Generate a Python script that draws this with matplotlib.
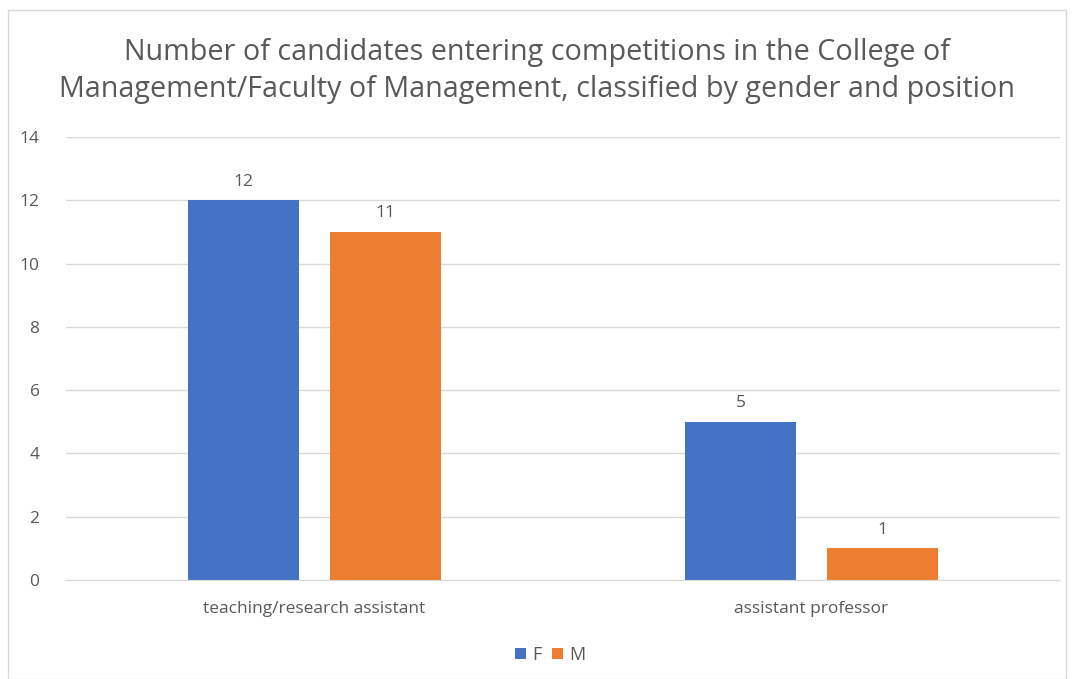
import matplotlib.pyplot as plt
from matplotlib.patches import Rectangle
import numpy as np

categories = ["teaching/research assistant", "assistant professor"]
series = ["F", "M"]
f_values = [12, 5]
m_values = [11, 1]
yticks = [0, 2, 4, 6, 8, 10, 12, 14]

blue = "#4472C4"
orange = "#ED7D31"
txt = "#595959"
plt.rcParams['font.family'] = ['Open Sans', 'DejaVu Sans']

fig = plt.figure(figsize=(10.74, 6.79), dpi=100)
# chart border
fig.patches.append(Rectangle((8 / 1074, 0), 1058 / 1074, 669 / 679, transform=fig.transFigure,
                             fill=False, edgecolor="#d9d9d9", linewidth=1))

W, H = 1074, 679
ax = fig.add_axes([66 / W, 1 - 580 / H, (1060 - 66) / W, (580 - 137) / H])

x = np.arange(len(categories))
bw = 0.223
off = 0.143
b1 = ax.bar(x - off, f_values, bw, color=blue, label=series[0])
b2 = ax.bar(x + off, m_values, bw, color=orange, label=series[1])
for bars in (b1, b2):
    for b in bars:
        ax.text(b.get_x() + b.get_width() / 2, b.get_height() + 0.33, str(int(b.get_height())),
                ha="center", va="bottom", fontsize=12.5, color=txt)

ax.set_xlim(-0.5, 1.5)
ax.set_ylim(0, 14)
ax.set_yticks(yticks)
ax.set_xticks(x)
ax.set_xticklabels(categories)
ax.tick_params(axis="both", length=0, labelsize=12.5, labelcolor=txt)
ax.tick_params(axis="y", pad=19)
ax.tick_params(axis="x", pad=15)
ax.grid(axis="y", color="#d9d9d9", linewidth=1)
ax.set_axisbelow(True)
for s in ["top", "right", "left"]:
    ax.spines[s].set_visible(False)
ax.spines["bottom"].set_color("#d9d9d9")

fig.text(0.5, 1 - 71 / H,
         "Number of candidates entering competitions in the College of\n"
         "Management/Faculty of Management, classified by gender and position",
         ha="center", va="center", fontsize=20.7, color=txt, linespacing=1.4)

fig.legend(handles=[b1, b2], labels=series, loc="center", bbox_to_anchor=(550 / W, 1 - 655 / H),
           ncol=2, frameon=False, fontsize=13, labelcolor=txt, handlelength=0.6, handleheight=0.6,
           handletextpad=0.35, columnspacing=0.6)

fig.savefig("out.png", dpi=100)
